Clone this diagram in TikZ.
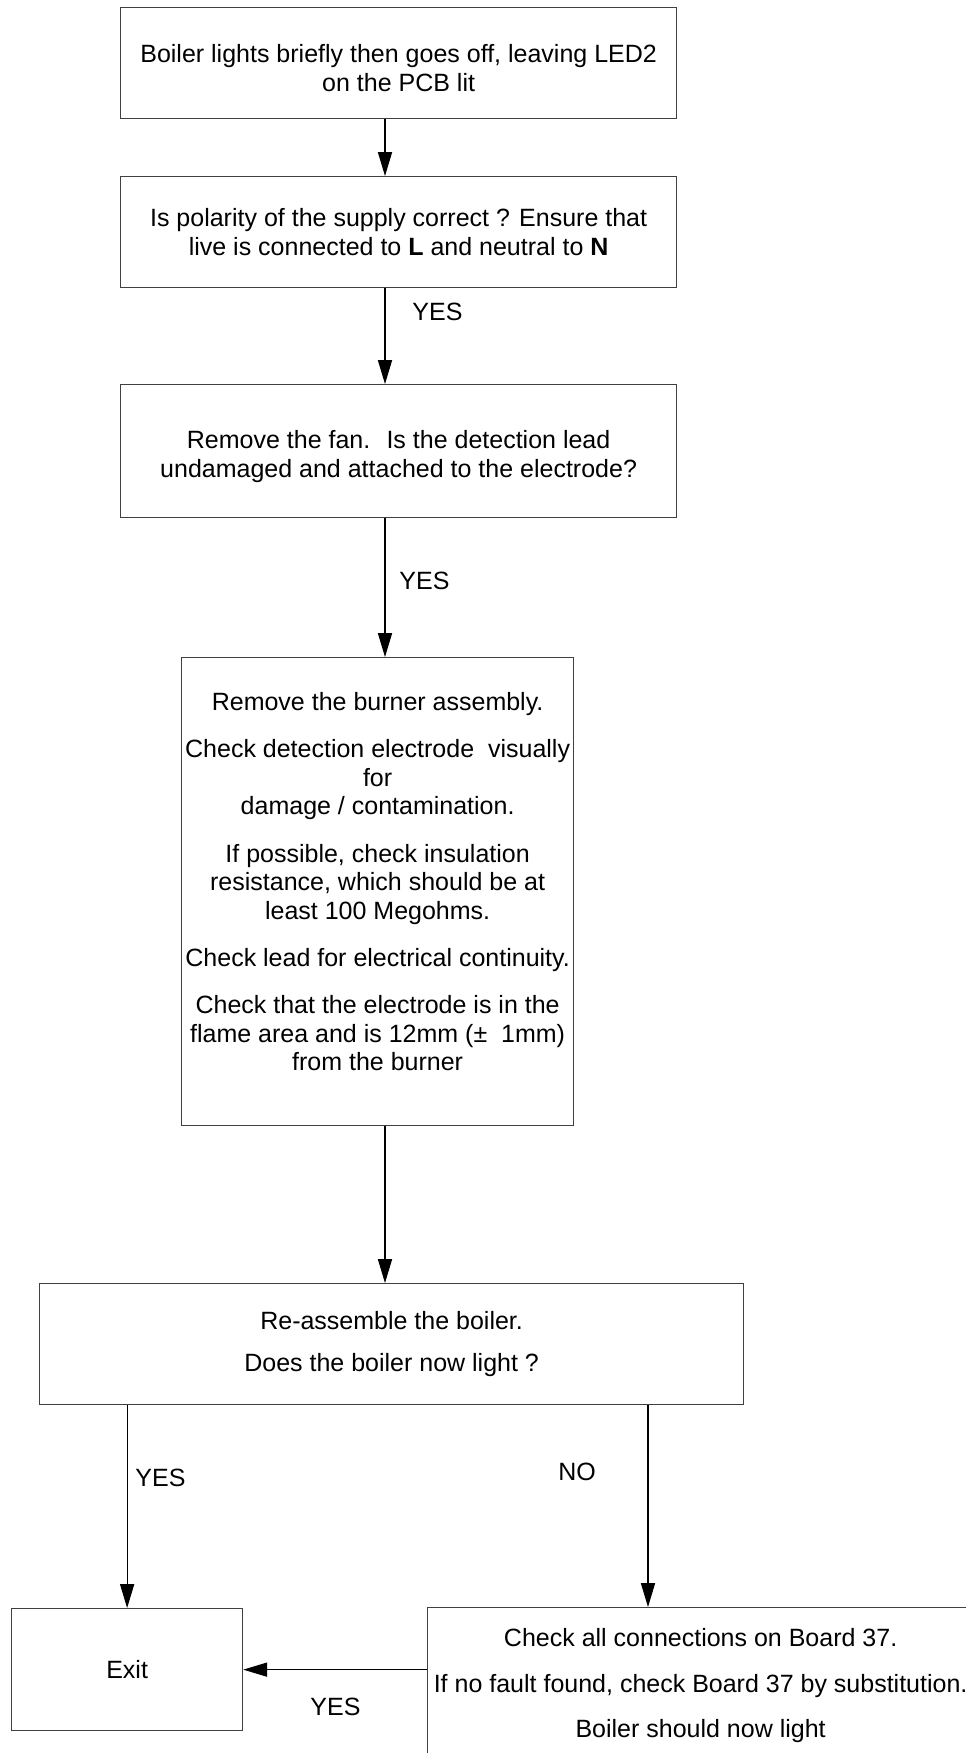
\documentclass[tikz,border=0pt]{standalone}
\usepackage{fontspec}
\setmainfont{Liberation Sans}
\usetikzlibrary{arrows.meta}
\newlength{\pxu}
\setlength{\pxu}{0.48pt}

\begin{document}
\begin{tikzpicture}[
    x = 0.48pt,
    y = -0.48pt,
    box/.style = {
        rectangle,
        anchor = north west,
        draw = black!75,
        line width = 0.6pt,
        align = center,
        inner sep = 0pt,
        font = \fontsize{12}{14}\selectfont
    },
    lbl/.style = {
        anchor = west,
        inner sep = 0pt,
        font = \fontsize{12}{14}\selectfont
    },
    arrow/.style = {
        -{Triangle[length=11.5pt, width=6.8pt]},
        line width = 0.5pt,
        black
    }
]
    \useasboundingbox (0,0) rectangle (966,1753);
    \clip (0,0) rectangle (966,1753);

    % Nodes
    \node [box, minimum width = 556\pxu, minimum height = 111\pxu] (fault) at (120,7)
        {\mbox{}\\[-0.8pt]Boiler lights briefly then goes off, leaving LED2\\on the PCB lit};
    \node [box, minimum width = 556\pxu, minimum height = 111\pxu] (polarity) at (120,176)
        {Is polarity of the supply correct ? Ensure that\\live is connected to \textbf{L} and neutral to \textbf{N}};
    \node [box, minimum width = 556\pxu, minimum height = 133\pxu] (fanlead) at (120,384)
        {\mbox{}\\[0pt]Remove the fan.~ Is the detection lead\\undamaged and attached to the electrode?};
    \node [box, minimum width = 392\pxu, minimum height = 468\pxu,
           font = \fontsize{12}{13.7}\selectfont] (burner) at (181,657)
        {Remove the burner assembly.\\[9pt]
         Check detection electrode~ visually\\for\\damage / contamination.\\[9pt]
         If possible, check insulation\\resistance, which should be at\\least 100 Megohms.\\[9pt]
         Check lead for electrical continuity.\\[9pt]
         Check that the electrode is in the\\flame area and is 12mm (±~ 1mm)\\from the burner\\[-4.1pt]\mbox{}};
    \node [box, minimum width = 704\pxu, minimum height = 121\pxu] (reassemble) at (39,1283)
        {Re-assemble the boiler.\\[5.8pt]Does the boiler now light ?};
    \node [box, minimum width = 231\pxu, minimum height = 122\pxu] (exit) at (11,1608) {Exit};
    \node [box, minimum width = 546\pxu, minimum height = 156\pxu] (board) at (427,1607)
        {Check all connections on Board 37.\\[7.7pt]If no fault found, check Board 37 by substitution.\\[7.7pt]Boiler should now light};

    \coordinate (spine) at (385,0);
    \coordinate (nobranch) at (648,0);

    % Labels
    \node [lbl] (yes1) at (412,312) {YES};
    \node [lbl] (yes2) at (399,581) {YES};
    \node [lbl] (yes3) at (135,1478) {YES};
    \node [lbl] (no) at (558,1472) {NO};
    \node [lbl] (yes4) at (310,1707) {YES};

    % Arrows
    \draw [arrow] (fault.south -| spine) -- (polarity.north -| spine);
    \draw [arrow] (polarity.south -| spine) -- (fanlead.north -| spine);
    \draw [arrow] (fanlead.south -| spine) -- (burner.north -| spine);
    \draw [arrow] (burner.south -| spine) -- (reassemble.north -| spine);
    \draw [arrow] (reassemble.south -| exit.north) -- (exit.north);
    \draw [arrow] (reassemble.south -| nobranch) -- (board.north -| nobranch);
    \draw [arrow] (board.west |- exit.east) -- (exit.east);

\end{tikzpicture}
\end{document}
